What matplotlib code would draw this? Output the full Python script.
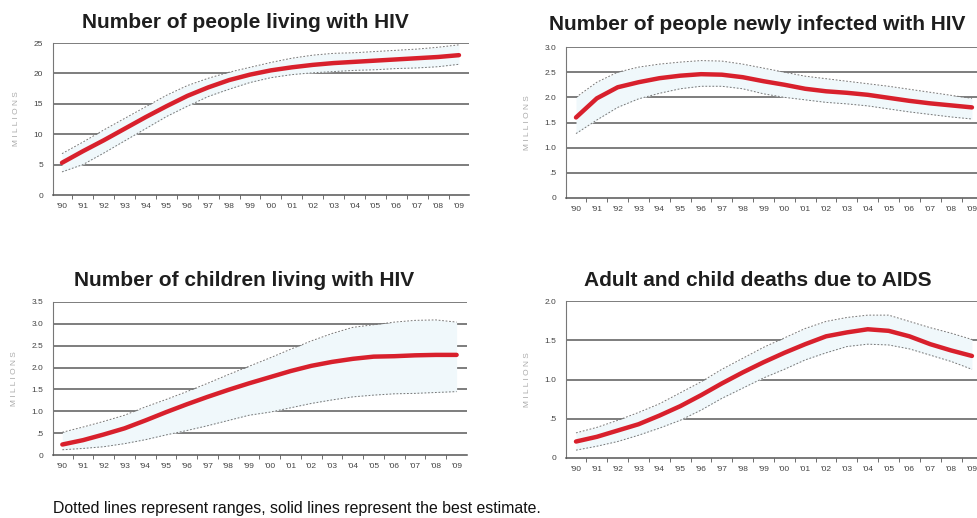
import matplotlib.pyplot as plt
import numpy as np

plt.rcParams['font.family'] = ['Liberation Sans', 'DejaVu Sans']

years = np.arange(1990, 2010)
year_labels = ["'%02d" % (y % 100) for y in years]

# people living with HIV (millions)
living_best = [5.3, 7.2, 9.0, 10.9, 12.8, 14.6, 16.3, 17.7, 18.9, 19.8,
               20.5, 21.0, 21.4, 21.7, 21.9, 22.1, 22.3, 22.5, 22.7, 23.0]
living_high = [6.8, 8.7, 10.7, 12.6, 14.5, 16.4, 18.0, 19.2, 20.2, 21.0,
               21.8, 22.5, 23.0, 23.3, 23.4, 23.6, 23.8, 24.0, 24.3, 24.7]
living_low = [3.8, 5.0, 6.9, 8.9, 10.9, 12.9, 14.6, 16.2, 17.4, 18.5,
              19.3, 19.8, 20.1, 20.3, 20.5, 20.6, 20.8, 20.9, 21.1, 21.5]

# people newly infected
new_best = [1.60, 1.98, 2.20, 2.30, 2.38, 2.43, 2.46, 2.45, 2.40, 2.32,
            2.25, 2.17, 2.12, 2.09, 2.05, 1.99, 1.93, 1.88, 1.84, 1.80]
new_high = [2.00, 2.30, 2.50, 2.60, 2.66, 2.70, 2.73, 2.72, 2.66, 2.58,
            2.50, 2.42, 2.37, 2.32, 2.27, 2.22, 2.16, 2.10, 2.04, 1.98]
new_low = [1.28, 1.55, 1.80, 1.97, 2.08, 2.17, 2.22, 2.22, 2.17, 2.07,
           2.00, 1.95, 1.90, 1.87, 1.83, 1.77, 1.71, 1.66, 1.61, 1.57]

# children living with HIV
child_best = [0.24, 0.34, 0.47, 0.61, 0.79, 0.98, 1.16, 1.33, 1.49, 1.64,
              1.78, 1.92, 2.04, 2.13, 2.20, 2.25, 2.26, 2.28, 2.29, 2.29]
child_high = [0.52, 0.64, 0.77, 0.91, 1.10, 1.27, 1.45, 1.64, 1.84, 2.03,
              2.22, 2.42, 2.61, 2.78, 2.92, 2.98, 3.04, 3.08, 3.09, 3.04]
child_low = [0.12, 0.15, 0.19, 0.26, 0.35, 0.46, 0.56, 0.67, 0.79, 0.91,
             0.98, 1.08, 1.18, 1.26, 1.33, 1.37, 1.40, 1.41, 1.43, 1.45]

# adult and child deaths
death_best = [0.21, 0.27, 0.35, 0.43, 0.54, 0.66, 0.80, 0.95, 1.09, 1.22,
              1.34, 1.45, 1.55, 1.60, 1.64, 1.62, 1.55, 1.45, 1.37, 1.30]
death_high = [0.32, 0.39, 0.48, 0.58, 0.69, 0.83, 0.97, 1.13, 1.27, 1.41,
              1.53, 1.65, 1.74, 1.79, 1.82, 1.82, 1.74, 1.66, 1.59, 1.51]
death_low = [0.10, 0.15, 0.21, 0.29, 0.38, 0.48, 0.61, 0.76, 0.89, 1.02,
             1.13, 1.25, 1.34, 1.42, 1.45, 1.44, 1.39, 1.31, 1.23, 1.13]

W, H = 978, 518
fig = plt.figure(figsize=(W / 100, H / 100), dpi=100)


def panel(box, title, title_xy, best, low, high, yticks, ylabels, xlim):
    l, t, r, b = box
    ax = fig.add_axes([l / W, 1 - b / H, (r - l) / W, (b - t) / H])
    ax.fill_between(years, low, high, color='#f0f8fb', lw=0, zorder=1)
    ax.plot(years, high, color='#777777', lw=0.7, ls=(0, (1.8, 1.8)), zorder=2)
    ax.plot(years, low, color='#777777', lw=0.7, ls=(0, (1.8, 1.8)), zorder=2)
    ax.plot(years, best, color='#d8202c', lw=3.2, solid_capstyle='round', zorder=3)
    ax.set_xlim(*xlim)
    ax.set_ylim(0, yticks[-1])
    ax.set_yticks(yticks)
    ax.set_yticklabels(ylabels, fontsize=6, color='#444444')
    ax.set_xticks(years)
    ax.set_xticklabels(year_labels, fontsize=6, color='#444444')
    ax.tick_params(axis='x', length=0, pad=6)
    ax.tick_params(axis='y', length=0, pad=7)
    ax.set_xticks(years[:-1] + 0.5, minor=True)
    ax.tick_params(axis='x', which='minor', length=3, direction='out', color='#555555')
    for y in yticks[1:]:
        ax.axhline(y, color='#5a5a5a', lw=1.1, zorder=0)
    for s in ['top', 'right']:
        ax.spines[s].set_visible(False)
    ax.spines['left'].set_color('#777777')
    ax.spines['bottom'].set_color('#555555')
    ax.spines['bottom'].set_linewidth(1.1)
    ax.set_ylabel('M I L L I O N S', fontsize=6, color='#aaaaaa', labelpad=10)
    fig.text(title_xy[0] / W, 1 - title_xy[1] / H, title, fontsize=15,
             fontweight='bold', color='#1e1e1e', ha='center', va='center')
    return ax


panel((53, 43, 469, 195), 'Number of people living with HIV', (245, 23),
      living_best, living_low, living_high,
      [0, 5, 10, 15, 20, 25], ['0', '5', '10', '15', '20', '25'], (1989.57, 2009.48))
panel((566, 47, 978, 198), 'Number of people newly infected with HIV', (757, 24),
      new_best, new_low, new_high,
      [0, 0.5, 1.0, 1.5, 2.0, 2.5, 3.0], ['0', '.5', '1.0', '1.5', '2.0', '2.5', '3.0'],
      (1989.52, 2009.29))
panel((53, 302, 467, 455), 'Number of children living with HIV', (244, 280),
      child_best, child_low, child_high,
      [0, 0.5, 1.0, 1.5, 2.0, 2.5, 3.0, 3.5],
      ['0', '.5', '1.0', '1.5', '2.0', '2.5', '3.0', '3.5'], (1989.55, 2009.5))
panel((566, 301, 978, 458), 'Adult and child deaths due to AIDS', (758, 280),
      death_best, death_low, death_high,
      [0, 0.5, 1.0, 1.5, 2.0], ['0', '.5', '1.0', '1.5', '2.0'], (1989.52, 2009.29))

fig.text(53 / W, 1 - 508 / H,
         'Dotted lines represent ranges, solid lines represent the best estimate.',
         fontsize=11.4, color='#111111', va='center')

fig.savefig('out.png', dpi=100)
